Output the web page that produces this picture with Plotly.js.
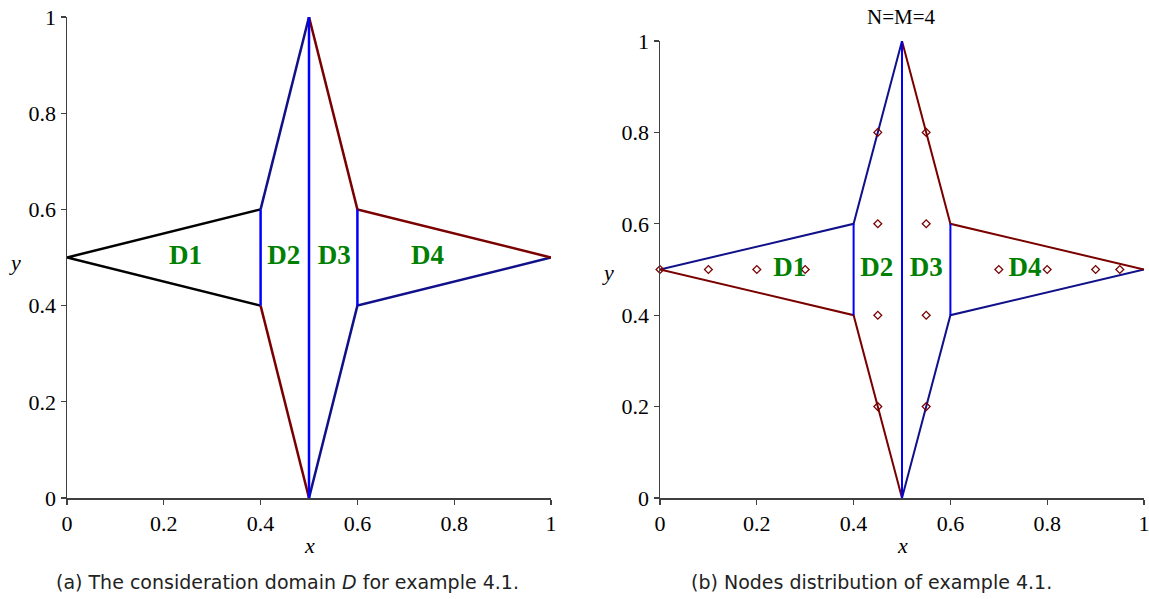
<!DOCTYPE html>
<html>
<head>
<meta charset="utf-8">
<script src="https://cdn.plot.ly/plotly-3.0.1.min.js"></script>
<style>html,body{margin:0;padding:0;background:#fff;}#chart{width:1149px;height:599px;}</style>
</head>
<body>
<div id="chart"></div>
<script>
// ---- Data: panel (a) ----
const aBlackX = [0.4, 0, 0.4];
const aBlackY = [0.6, 0.5, 0.4];
const aNavyX = [0.4, 0.5, null, 0.5, 0.6, 1];
const aNavyY = [0.6, 1, null, 0, 0.4, 0.5];
const aMaroonX = [0.4, 0.5, null, 0.5, 0.6, 1];
const aMaroonY = [0.4, 0, null, 1, 0.6, 0.5];
const blueX = [0.4, 0.4, null, 0.5, 0.5, null, 0.6, 0.6];
const blueY = [0.4, 0.6, null, 0, 1, null, 0.4, 0.6];

// ---- Data: panel (b) ----
const bNavyX = [0, 0.4, 0.5, null, 0.5, 0.6, 1];
const bNavyY = [0.5, 0.6, 1, null, 0, 0.4, 0.5];
const bMaroonX = [0, 0.4, 0.5, null, 0.5, 0.6, 1];
const bMaroonY = [0.5, 0.4, 0, null, 1, 0.6, 0.5];
const nodeX = [0, 0.1, 0.2, 0.3, 0.45, 0.45, 0.45, 0.45, 0.55, 0.55, 0.55, 0.55, 0.7, 0.8, 0.9, 0.95];
const nodeY = [0.5, 0.5, 0.5, 0.5, 0.8, 0.6, 0.4, 0.2, 0.8, 0.6, 0.4, 0.2, 0.5, 0.5, 0.5, 0.5];

// ---- Region labels ----
const regionNames = ['D1', 'D2', 'D3', 'D4'];
const aLabelX = [0.245, 0.448, 0.552, 0.745];
const aLabelY = [0.5, 0.5, 0.5, 0.5];
const bLabelX = [0.268, 0.448, 0.55, 0.754];
const bLabelY = [0.5, 0.5, 0.5, 0.5];

// ---- Ticks ----
const tickVals = [0, 0.2, 0.4, 0.6, 0.8, 1];
const tickText = ['0', '0.2', '0.4', '0.6', '0.8', '1'];
const minorTickVals = [0.1, 0.3, 0.5, 0.7, 0.9];

const NAVY = '#10108a', MAROON = '#7a0000', BLUE = '#0000ff', BLACK = '#000000', GREEN = '#008000';
const SERIF = 'Liberation Serif';

function line(x, y, color, w, xa, ya) {
  return {x: x, y: y, xaxis: xa, yaxis: ya, mode: 'lines', type: 'scatter',
          line: {color: color, width: w}, hoverinfo: 'skip', showlegend: false};
}

const traces = [
  line(aBlackX, aBlackY, BLACK, 2.5, 'x', 'y'),
  line(aNavyX, aNavyY, NAVY, 2.5, 'x', 'y'),
  line(aMaroonX, aMaroonY, MAROON, 2.5, 'x', 'y'),
  line(blueX, blueY, BLUE, 2.5, 'x', 'y'),
  {x: aLabelX, y: aLabelY, text: regionNames, mode: 'text', type: 'scatter', xaxis: 'x', yaxis: 'y',
   textfont: {family: SERIF, size: 27, color: GREEN, weight: 'bold'}, cliponaxis: false,
   hoverinfo: 'skip', showlegend: false},
  line(bNavyX, bNavyY, NAVY, 2, 'x2', 'y2'),
  line(bMaroonX, bMaroonY, MAROON, 2, 'x2', 'y2'),
  line(blueX, blueY, BLUE, 2, 'x2', 'y2'),
  {x: nodeX, y: nodeY, mode: 'markers', type: 'scatter', xaxis: 'x2', yaxis: 'y2', cliponaxis: false,
   marker: {symbol: 'diamond-open', size: 6, color: MAROON, line: {width: 1.3, color: MAROON}},
   hoverinfo: 'skip', showlegend: false},
  {x: bLabelX, y: bLabelY, text: regionNames, mode: 'text', type: 'scatter', xaxis: 'x2', yaxis: 'y2',
   textfont: {family: SERIF, size: 27, color: GREEN, weight: 'bold'}, cliponaxis: false,
   hoverinfo: 'skip', showlegend: false}
];

function majorAxis(domain, anchor) {
  return {
    domain: domain, anchor: anchor, range: [0, 1], tickmode: 'array', tickvals: tickVals, ticktext: tickText,
    showgrid: false, zeroline: false, showline: true, linecolor: '#404040', linewidth: 1.5,
    ticks: 'outside', ticklen: 5, tickwidth: 1.2, tickcolor: '#404040', ticklabeloverflow: 'allow',
    tickfont: {family: SERIF, size: 22, color: '#000000'}, fixedrange: true
  };
}
function minorAxis(domain, anchor, over) {
  return {
    domain: domain, anchor: anchor, overlaying: over, range: [0, 1], tickmode: 'array', tickvals: minorTickVals,
    showticklabels: false, showgrid: false, zeroline: false, showline: false,
    ticks: 'outside', ticklen: 3, tickwidth: 1, tickcolor: '#404040', fixedrange: true
  };
}

const dxA = [67 / 1149, 551 / 1149], dyA = [101 / 599, 582 / 599];
const dxB = [660 / 1149, 1144 / 1149], dyB = [101 / 599, 558 / 599];

const layout = {
  width: 1149, height: 599, margin: {l: 0, r: 0, t: 0, b: 0},
  paper_bgcolor: '#fff', plot_bgcolor: '#fff', showlegend: false,
  title: {text: 'N=M=4', x: 901 / 1149, xanchor: 'center', y: 1 - 17 / 599, yanchor: 'middle',
          font: {family: SERIF, size: 21, color: '#000'}},
  xaxis: majorAxis(dxA, 'y'),
  yaxis: majorAxis(dyA, 'x'),
  xaxis2: majorAxis(dxB, 'y2'),
  yaxis2: majorAxis(dyB, 'x2'),
  xaxis3: minorAxis(dxA, 'y', 'x'),
  yaxis3: minorAxis(dyA, 'x', 'y'),
  xaxis4: minorAxis(dxB, 'y2', 'x2'),
  yaxis4: minorAxis(dyB, 'x2', 'y2'),
  annotations: [
    {text: '<i>x</i>', xref: 'paper', yref: 'paper', x: 309 / 1149, y: 1 - 545 / 599, showarrow: false,
     font: {family: SERIF, size: 22, color: '#000'}, xanchor: 'center', yanchor: 'middle'},
    {text: '<i>y</i>', xref: 'paper', yref: 'paper', x: 15 / 1149, y: 1 - 262 / 599, showarrow: false,
     font: {family: SERIF, size: 22, color: '#000'}, xanchor: 'center', yanchor: 'middle'},
    {text: '<i>x</i>', xref: 'paper', yref: 'paper', x: 902 / 1149, y: 1 - 545 / 599, showarrow: false,
     font: {family: SERIF, size: 22, color: '#000'}, xanchor: 'center', yanchor: 'middle'},
    {text: '<i>y</i>', xref: 'paper', yref: 'paper', x: 608 / 1149, y: 1 - 272 / 599, showarrow: false,
     font: {family: SERIF, size: 22, color: '#000'}, xanchor: 'center', yanchor: 'middle'},
    {text: '(a) The consideration domain <i>D</i> for example 4.1.', xref: 'paper', yref: 'paper',
     x: 287 / 1149, y: 1 - 582 / 599, showarrow: false, xanchor: 'center', yanchor: 'middle',
     font: {family: 'DejaVu Sans', size: 19, color: '#222'}},
    {text: '(b) Nodes distribution of example 4.1.', xref: 'paper', yref: 'paper',
     x: 871 / 1149, y: 1 - 582 / 599, showarrow: false, xanchor: 'center', yanchor: 'middle',
     font: {family: 'DejaVu Sans', size: 19, color: '#222'}}
  ]
};

Plotly.newPlot('chart', traces, layout, {staticPlot: true, displayModeBar: false});
</script>
</body>
</html>
